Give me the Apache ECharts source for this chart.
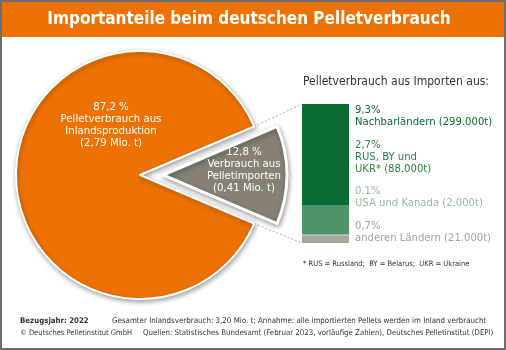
<!DOCTYPE html>
<html>
<head>
<meta charset="utf-8">
<script src="https://cdn.jsdelivr.net/npm/echarts@6/dist/echarts.min.js"></script>
<style>
  html, body { margin: 0; padding: 0; background: #fff; }
  #chart { width: 506px; height: 350px; }
</style>
</head>
<body>
<div id="chart"></div>
<script>
// Kreis: Anteil Import / Inland am Gesamtverbrauch (%)
var pieNames = ['Verbrauch aus Pelletimporten', 'Pelletverbrauch aus Inlandsproduktion'];
var pieShares = [12.8, 87.2];
var pieLabels = ['12,8 %\nVerbrauch aus\nPelletimporten\n(0,41 Mio. t)', '87,2 %\nPelletverbrauch aus\nInlandsproduktion\n(2,79 Mio. t)'];

// Säule: Herkunft der Importe (von unten nach oben gestapelt)
var importNames = ['anderen Ländern', 'USA und Kanada', 'RUS, BY und UKR', 'Nachbarländern'];
var importShares = [0.7, 0.1, 2.7, 9.3];
var importLabels = ['0,7%\nanderen Ländern (21.000t)', '0,1%\nUSA und Kanada (2.000t)', '2,7%\nRUS, BY und\nUKR* (88.000t)', '9,3%\nNachbarländern (299.000t)'];

var FONT = "'DejaVu Sans Condensed', 'Liberation Sans Narrow', 'Open Sans', sans-serif";
var ORANGE = '#ee7203';
var barColors = ['#aaa59b', '#8dbf9a', '#4e9468', '#0b6b34'];
var labelColors = ['#a8a297', '#8dbf9a', '#2a8449', '#0b6b34'];
var labelY = [232, 197, 157, 116];

var cx = 140, cy = 175, R = 124;
var barLeft = 302, barTop = 104, barW = 47, barH = 139;
var total = importShares.reduce(function (a, b) { return a + b; }, 0);

var chart = echarts.init(document.getElementById('chart'));

var half = pieShares[0] / 100 * Math.PI; // halber Winkel des Importsegments
var graphics = [
  { type: 'rect', shape: { x: 1, y: 1, width: 504, height: 348 }, style: { fill: '#fff', stroke: '#6e6e6e', lineWidth: 2 }, z: -10 },
  { type: 'rect', shape: { x: 2, y: 2, width: 502, height: 35 }, style: { fill: ORANGE }, z: 1 },
  { type: 'text', x: 249, y: 20, z: 5, style: { text: 'Importanteile beim deutschen Pelletverbrauch', fill: '#fff', font: 'bold 17px ' + FONT, align: 'center', verticalAlign: 'middle' } },
  { type: 'line', z: 0, shape: { x1: cx + R * Math.cos(half), y1: cy - R * Math.sin(half), x2: barLeft, y2: barTop }, style: { stroke: '#9a9a9a', lineWidth: 0.8, lineDash: [2, 2] } },
  { type: 'line', z: 0, shape: { x1: cx + R * Math.cos(half), y1: cy + R * Math.sin(half), x2: barLeft, y2: barTop + barH }, style: { stroke: '#9a9a9a', lineWidth: 0.8, lineDash: [2, 2] } },
  { type: 'text', x: 111, y: 125, z: 100, style: { text: pieLabels[1], fill: '#fff', font: '11.3px ' + FONT, lineHeight: 12, align: 'center', verticalAlign: 'middle' } },
  { type: 'text', x: 244, y: 170, z: 100, style: { text: pieLabels[0], fill: '#fff', font: '11.3px ' + FONT, lineHeight: 12, align: 'center', verticalAlign: 'middle' } },
  { type: 'text', x: 303, y: 82, z: 5, style: { text: 'Pelletverbrauch aus Importen aus:', fill: '#333', font: '12px ' + FONT, verticalAlign: 'middle' } },
  { type: 'text', x: 303, y: 264, z: 5, style: { text: '* RUS = Russland;  BY = Belarus;  UKR = Ukraine', fill: '#333', font: '7.5px ' + FONT, verticalAlign: 'middle' } },
  { type: 'text', x: 20, y: 321, z: 5, style: { text: 'Bezugsjahr: 2022', fill: '#333', font: 'bold 7.8px ' + FONT, verticalAlign: 'middle' } },
  { type: 'text', x: 112, y: 321, z: 5, style: { text: 'Gesamter Inlandsverbrauch: 3,20 Mio. t; Annahme: alle importierten Pellets werden im Inland verbraucht', fill: '#333', font: '7.9px ' + FONT, verticalAlign: 'middle' } },
  { type: 'text', x: 20, y: 333, z: 5, style: { text: '© Deutsches Pelletinstitut GmbH', fill: '#333', font: '7.5px ' + FONT, verticalAlign: 'middle' } },
  { type: 'text', x: 143, y: 333, z: 5, style: { text: 'Quellen: Statistisches Bundesamt (Februar 2023, vorläufige Zahlen), Deutsches Pelletinstitut (DEPI)', fill: '#333', font: '7.8px ' + FONT, verticalAlign: 'middle' } }
];
importLabels.forEach(function (t, i) {
  graphics.push({ type: 'text', x: 355, y: labelY[i], z: 5, style: { text: t, fill: labelColors[i], font: '11.2px ' + FONT, lineHeight: 12, verticalAlign: 'middle' } });
});

var series = [{
  type: 'pie',
  center: [cx, cy],
  radius: R,
  startAngle: pieShares[0] / 100 * 180,
  selectedMode: 'single',
  selectedOffset: 23,
  silent: true,
  label: { show: false },
  labelLine: { show: false },
  itemStyle: { borderColor: '#fff', borderWidth: 2, shadowBlur: 5, shadowColor: 'rgba(0,0,0,0.35)', shadowOffsetX: 1, shadowOffsetY: 2 },
  data: pieNames.map(function (n, i) {
    return { name: n, value: pieShares[i], selected: i === 0, itemStyle: { color: i === 0 ? '#878074' : ORANGE, borderWidth: i === 0 ? 3 : 2 } };
  })
}];
importShares.forEach(function (v, i) {
  series.push({ type: 'bar', name: importNames[i], stack: 'imp', barWidth: '100%', silent: true, itemStyle: { color: barColors[i] }, data: [v] });
});

chart.setOption({
  animation: false,
  graphic: graphics,
  grid: { left: barLeft, top: barTop, width: barW, height: barH },
  xAxis: { type: 'category', data: ['Importe'], show: false },
  yAxis: { type: 'value', min: 0, max: total, show: false },
  series: series
});
</script>
</body>
</html>
